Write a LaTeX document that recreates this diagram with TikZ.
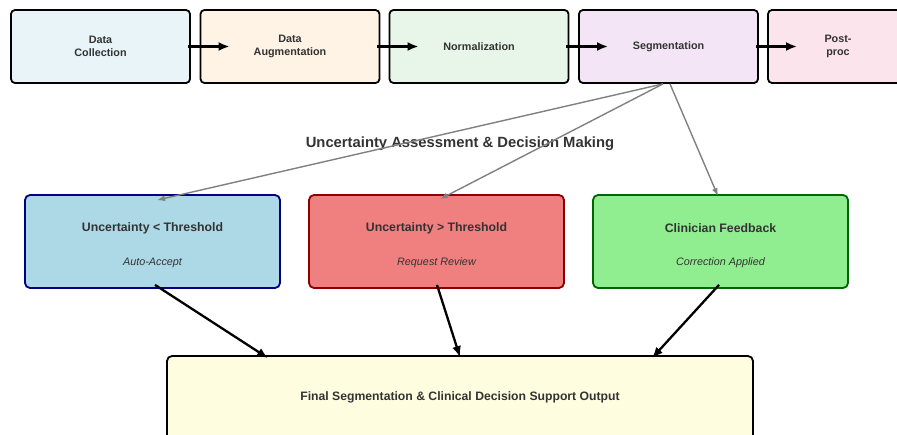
\documentclass[tikz,border=0pt]{standalone}
\usepackage{fontspec}
\setmainfont{Liberation Sans}
\usepackage{tikz}
\usetikzlibrary{arrows.meta}

\definecolor{cCollect}{HTML}{E8F4F8}
\definecolor{cAugment}{HTML}{FFF3E6}
\definecolor{cNorm}{HTML}{E8F5E9}
\definecolor{cSeg}{HTML}{F3E5F5}
\definecolor{cPost}{HTML}{FCE4EC}
\definecolor{cLow}{HTML}{ADD8E6}
\definecolor{cHigh}{HTML}{F08080}
\definecolor{cFeed}{HTML}{90EE90}
\definecolor{cFinal}{HTML}{FFFDE0}
\definecolor{cText}{HTML}{333333}

\begin{document}
\begin{tikzpicture}[x=1pt, y=-1pt]
    \useasboundingbox (0,0) rectangle (897,434);
    \tikzstyle{stage}=[draw=black, line width=1.8pt, rounded corners=4pt,
        minimum width=179pt, minimum height=73pt, align=center, text=cText,
        font=\fontsize{10.8}{12.5}\selectfont\bfseries]
    \tikzstyle{decision}=[line width=1.8pt, rounded corners=5pt,
        minimum width=255pt, minimum height=93pt]
    \tikzstyle{head}=[text=cText, font=\fontsize{12.3}{14}\selectfont\bfseries]
    \tikzstyle{sub}=[text=cText, font=\fontsize{10.8}{12}\selectfont\itshape]
    \tikzstyle{flow}=[-{Latex[length=11pt,width=9pt]}, line width=2.3pt, black]
    \tikzstyle{branch}=[-{Latex[length=8pt,width=6pt]}, line width=1.4pt, gray]
    % pipeline
    \node[stage, fill=cCollect] (collect) at (100.5,46.5) {Data\\Collection};
    \node[stage, fill=cAugment] (augment) at (290,46.5) {Data\\Augmentation};
    \node[stage, fill=cNorm] (norm) at (479,46.5) {Normalization};
    \node[stage, fill=cSeg] (seg) at (668.5,46.5) {Segmentation};
    \node[stage, fill=cPost, minimum width=140pt] (post) at (838,46.5) {Post-\\proc};
    \draw[flow] ([xshift=-3pt]collect.east) -- ([xshift=30pt]augment.west);
    \draw[flow] ([xshift=-3pt]augment.east) -- ([xshift=30pt]norm.west);
    \draw[flow] ([xshift=-3pt]norm.east) -- ([xshift=30pt]seg.west);
    \draw[flow] ([xshift=-3pt]seg.east) -- ([xshift=30pt]post.west);
    % decisions
    \node[text=cText, font=\fontsize{14.8}{17}\selectfont\bfseries] (title) at (460,144)
        {Uncertainty Assessment \& Decision Making};
    \node[decision, draw=blue!50!black, fill=cLow] (low) at (152.5,241.5) {};
    \node[decision, draw=red!55!black, fill=cHigh] (high) at (436.5,241.5) {};
    \node[decision, draw=green!40!black, fill=cFeed] (feed) at (720.5,241.5) {};
    \node[head] (lowH) at ([yshift=13pt]low.center) {Uncertainty < Threshold};
    \node[sub] (lowS) at ([yshift=-21pt]low.center) {Auto-Accept};
    \node[head] (highH) at ([yshift=13pt]high.center) {Uncertainty > Threshold};
    \node[sub] (highS) at ([yshift=-21pt]high.center) {Request Review};
    \node[head] (feedH) at ([yshift=13pt]feed.center) {Clinician Feedback};
    \node[sub] (feedS) at ([yshift=-21pt]feed.center) {Correction Applied};
    \draw[branch] ([xshift=-5.5pt]seg.south) -- ([xshift=4.5pt,yshift=-6pt]low.north);
    \draw[branch] ([xshift=-5.5pt]seg.south) -- ([xshift=3.5pt,yshift=-5pt]high.north);
    \draw[branch] ([xshift=1.5pt]seg.south) -- ([xshift=-2.5pt,yshift=-2pt]feed.north);
    % output
    \node[draw=black, line width=1.8pt, rounded corners=5pt, fill=cFinal,
        minimum width=586pt, minimum height=84pt] (final) at (460,398) {};
    \node[text=cText, font=\fontsize{12.2}{14}\selectfont\bfseries] (finalT) at ([yshift=1pt]final.center)
        {Final Segmentation \& Clinical Decision Support Output};
    \draw[flow] ([xshift=2.5pt,yshift=4pt]low.south) -- ([xshift=-192pt,yshift=-3pt]final.north);
    \draw[flow] ([xshift=0.5pt,yshift=4pt]high.south) -- ([xshift=0pt,yshift=-2pt]final.north);
    \draw[flow] ([xshift=-1.5pt,yshift=4pt]feed.south) -- ([xshift=192pt,yshift=-3pt]final.north);
\end{tikzpicture}
\end{document}
